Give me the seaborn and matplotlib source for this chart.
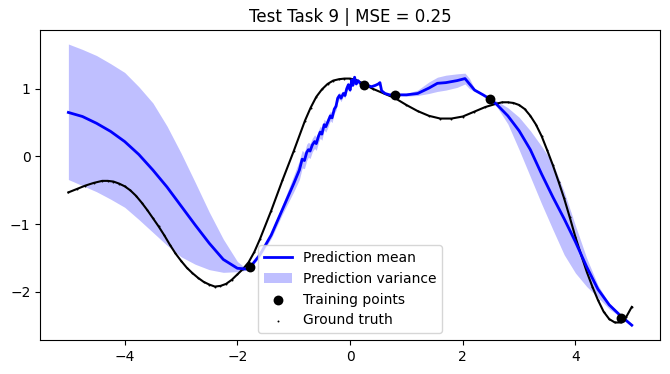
import numpy as np
import matplotlib
matplotlib.use("Agg")
import matplotlib.pyplot as plt
import seaborn as sns

# Title text
title = "Test Task 9 | MSE = 0.25"

# Ground truth samples
gt_x = [-5.0, -4.85, -4.7, -4.55, -4.4, -4.3, -4.2, -4.1, -4.0, -3.9, -3.8, -3.7, -3.6, -3.5, -3.4,
        -3.3, -3.2, -3.1, -3.0, -2.9, -2.8, -2.7, -2.6, -2.5, -2.4, -2.3, -2.2, -2.1, -2.0, -1.9,
        -1.8, -1.7, -1.6, -1.4, -1.2, -1.0, -0.8, -0.7, -0.6, -0.5, -0.4, -0.3, -0.2, -0.1, 0.0,
        0.1, 0.2, 0.4, 0.6, 0.8, 1.0, 1.2, 1.4, 1.6, 1.8, 2.0, 2.2, 2.4, 2.6, 2.7,
        2.8, 2.9, 3.0, 3.1, 3.2, 3.3, 3.4, 3.5, 3.6, 3.7, 3.8, 3.9, 4.0, 4.1, 4.2,
        4.3, 4.4, 4.5, 4.6, 4.7, 4.8, 4.9, 5.0]
gt_y = [-0.53, -0.48, -0.43, -0.39, -0.36, -0.36, -0.37, -0.40, -0.44, -0.50, -0.58, -0.68, -0.79, -0.91, -1.03,
        -1.16, -1.30, -1.43, -1.54, -1.64, -1.72, -1.79, -1.85, -1.89, -1.92, -1.91, -1.88, -1.82, -1.74, -1.66,
        -1.56, -1.41, -1.22, -0.80, -0.35, 0.08, 0.53, 0.72, 0.88, 0.99, 1.07, 1.12, 1.14, 1.15, 1.15,
        1.13, 1.09, 1.00, 0.93, 0.86, 0.76, 0.67, 0.60, 0.56, 0.56, 0.59, 0.66, 0.73, 0.78, 0.80,
        0.80, 0.79, 0.76, 0.70, 0.60, 0.47, 0.30, 0.09, -0.13, -0.37, -0.62, -0.90, -1.19, -1.45, -1.70,
        -1.92, -2.12, -2.29, -2.40, -2.45, -2.45, -2.37, -2.22]

# Training points
train_x = [-1.77, 0.25, 0.80, 2.48, 4.81]
train_y = [-1.63, 1.06, 0.91, 0.85, -2.38]

# Prediction mean and variance band (lower / upper edges)
pred_x = [-5.0, -4.75, -4.5, -4.25, -4.0, -3.75, -3.5, -3.25, -3.0, -2.75, -2.5, -2.25, -2.0, -1.85, -1.77,
          -1.6, -1.4, -1.2, -1.0, -0.9,
          -0.85, -0.81, -0.77, -0.74, -0.71, -0.67, -0.63, -0.6, -0.56, -0.53, -0.5, -0.46, -0.43, -0.39,
          -0.35, -0.32, -0.28, -0.25, -0.22, -0.19, -0.16, -0.12, -0.09, -0.06, -0.03, 0.0, 0.03, 0.05,
          0.08, 0.11, 0.14, 0.18, 0.25,
          0.3, 0.38, 0.45, 0.5, 0.53, 0.56, 0.62, 0.7, 0.8,
          1.0, 1.2, 1.4, 1.55, 1.7, 1.9, 2.04, 2.12, 2.21, 2.36, 2.48,
          2.6, 2.8, 3.0, 3.2, 3.4, 3.6, 3.8, 4.0, 4.2, 4.4, 4.6, 4.8, 5.0]
pred_mean = [0.65, 0.59, 0.49, 0.37, 0.22, 0.03, -0.20, -0.45, -0.73, -1.01, -1.28, -1.52, -1.65, -1.66, -1.63,
             -1.45, -1.16, -0.78, -0.40, -0.20,
             -0.04, -0.06, 0.06, 0.10, 0.08, 0.17, 0.22, 0.19, 0.30, 0.36, 0.33, 0.47, 0.44, 0.52,
             0.60, 0.57, 0.70, 0.74, 0.86, 0.90, 0.86, 0.93, 0.90, 1.00, 1.06, 0.98, 1.13, 1.05,
             1.17, 1.07, 1.12, 1.08, 1.05,
             1.05, 1.03, 1.05, 1.07, 1.09, 0.97, 0.93, 0.91, 0.91,
             0.91, 0.93, 1.01, 1.08, 1.09, 1.12, 1.15, 1.07, 0.98, 0.91, 0.85,
             0.77, 0.60, 0.38, 0.10, -0.26, -0.60, -0.92, -1.26, -1.63, -1.96, -2.19, -2.35, -2.49]
pred_lower = [-0.34, -0.43, -0.52, -0.63, -0.75, -0.93, -1.12, -1.31, -1.48, -1.59, -1.67, -1.71, -1.70, -1.68, -1.65,
              -1.48, -1.21, -0.85, -0.52, -0.34,
              -0.17, -0.18, -0.06, -0.01, -0.03, 0.07, 0.12, 0.09, 0.21, 0.27, 0.24, 0.39, 0.36, 0.44,
              0.53, 0.50, 0.64, 0.68, 0.80, 0.85, 0.81, 0.89, 0.86, 0.96, 1.02, 0.95, 1.10, 1.03,
              1.15, 1.05, 1.11, 1.07, 1.05,
              1.04, 1.02, 1.04, 1.06, 1.08, 0.96, 0.92, 0.90, 0.90,
              0.89, 0.90, 0.93, 0.96, 0.98, 1.02, 1.07, 1.00, 0.96, 0.90, 0.85,
              0.74, 0.48, 0.10, -0.30, -0.70, -1.08, -1.45, -1.72, -1.92, -2.08, -2.25, -2.37, -2.50]
pred_upper = [1.66, 1.58, 1.49, 1.37, 1.24, 1.03, 0.79, 0.45, 0.05, -0.38, -0.82, -1.22, -1.55, -1.65, -1.62,
              -1.42, -1.11, -0.71, -0.28, -0.06,
              0.09, 0.06, 0.18, 0.21, 0.19, 0.27, 0.32, 0.29, 0.39, 0.45, 0.42, 0.55, 0.52, 0.60,
              0.67, 0.64, 0.76, 0.80, 0.92, 0.95, 0.91, 0.97, 0.94, 1.04, 1.10, 1.01, 1.16, 1.07,
              1.19, 1.09, 1.13, 1.09, 1.05,
              1.06, 1.04, 1.06, 1.08, 1.10, 0.98, 0.94, 0.92, 0.92,
              0.93, 0.98, 1.10, 1.17, 1.20, 1.22, 1.23, 1.15, 1.00, 0.92, 0.85,
              0.82, 0.72, 0.58, 0.38, 0.15, -0.10, -0.52, -1.02, -1.50, -1.90, -2.17, -2.33, -2.47]

# Figure at the reference size (670x374 px)
fig, ax = plt.subplots(figsize=(6.7, 3.74), dpi=100)
fig.subplots_adjust(left=0.06, right=0.985, bottom=0.091, top=0.92)

# Mean line
sns.lineplot(x=pred_x, y=pred_mean, color="blue", linewidth=2, estimator=None, sort=False,
             label="Prediction mean", ax=ax, zorder=3)
# Variance band
ax.fill_between(pred_x, pred_lower, pred_upper, color="blue", alpha=0.25, linewidth=0,
                label="Prediction variance", zorder=1)
# Training points
sns.scatterplot(x=train_x, y=train_y, color="black", s=50, linewidth=0,
                label="Training points", ax=ax, zorder=4)
# Ground truth: thin curve plus dots for the legend entry
sns.lineplot(x=gt_x, y=gt_y, color="black", linewidth=1.5, estimator=None, sort=False,
             ax=ax, zorder=2)
sns.scatterplot(x=gt_x, y=gt_y, color="black", s=2, linewidth=0,
                label="Ground truth", ax=ax, zorder=2)

ax.set_title(title)
ax.legend(loc="lower center")

plt.savefig("out.png", dpi=100)
